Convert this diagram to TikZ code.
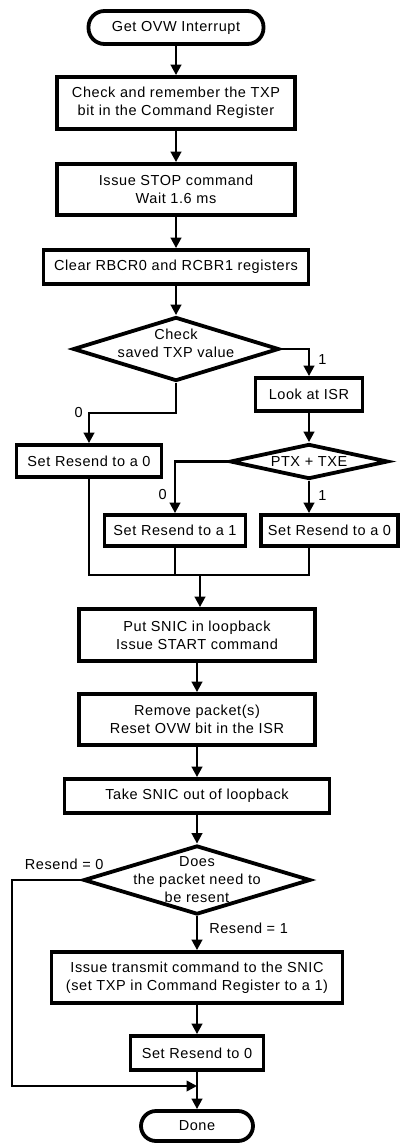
\documentclass[tikz,border=0pt]{standalone}
\usepackage{fontspec}
\setmainfont{Liberation Sans}[LetterSpace=4.0]
\usepackage{tikz}
\usetikzlibrary{shapes,arrows,arrows.meta,positioning}

\begin{document}
\begin{tikzpicture}[
    x=1pt, y=-1pt,
    font=\fontsize{14.5}{18}\selectfont,
    box/.style={rectangle, draw, line width=3.8pt, align=center, inner sep=0pt},
    terminal/.style={box, rounded corners=16pt, minimum height=33pt},
    decision/.style={diamond, draw, line width=3.8pt, inner sep=0pt},
    flow/.style={-{Triangle[length=10.5pt,width=10.5pt]}, line width=2.5pt},
    link/.style={line width=2.5pt},
    lbl/.style={inner sep=1pt}
]
    \useasboundingbox (0,0) rectangle (402,1144);

    % Start and first steps
    \node[terminal, minimum width=175pt] (start) at (176,27.5) {Get OVW Interrupt};
    \node[box, minimum width=238pt, minimum height=52pt] (chk) at (176,103) {Check and remember the TXP\\bit in the Command Register};
    \node[box, minimum width=238pt, minimum height=51pt] (stop) at (176,189.5) {Issue STOP command\\Wait 1.6 ms};
    \node[box, minimum width=265pt, minimum height=34pt] (clr) at (176,267) {Clear RBCR0 and RCBR1 registers};

    % TXP decision
    \node[decision, minimum width=206pt, minimum height=64pt,
          label={[align=center,yshift=6pt]center:{Check\\saved TXP value}}] (txp) at (176,349) {};
    \node[box, minimum width=107pt, minimum height=33pt] (isr) at (309,394.5) {Look at ISR};
    \node[box, minimum width=145pt, minimum height=32pt] (rsA) at (89,461) {Set Resend to a 0};

    % ISR decision
    \node[decision, minimum width=158pt, minimum height=35pt, label={center:{PTX + TXE}}] (ptx) at (309,461.5) {};
    \node[box, minimum width=141pt, minimum height=31pt] (rsB) at (175,530.5) {Set Resend to a 1};
    \node[box, minimum width=137pt, minimum height=31pt] (rsC) at (329.5,530.5) {Set Resend to a 0};
    \coordinate (mrg) at (200,575);

    % Loopback
    \node[box, minimum width=236pt, minimum height=52pt] (loop) at (197,635) {Put SNIC in loopback\\Issue START command};
    \node[box, minimum width=236pt, minimum height=51pt] (rem) at (197,719.5) {Remove packet(s)\\Reset OVW bit in the ISR};
    \node[box, minimum width=265pt, minimum height=34pt] (out) at (197,796) {Take SNIC out of loopback};

    % Resend decision
    \node[decision, minimum width=227pt, minimum height=69pt,
          label={[align=center]center:{Does\\the packet need to\\be resent}}] (resent) at (197,880) {};
    \node[box, minimum width=291pt, minimum height=51pt] (xmit) at (197,977.5) {Issue transmit command to the SNIC\\(set TXP in Command Register to a 1)};
    \node[box, minimum width=133pt, minimum height=34pt] (rs0) at (197,1053) {Set Resend to 0};
    \node[terminal, minimum width=112pt, minimum height=30pt, rounded corners=15pt] (done) at (197,1126) {Done};
    \coordinate (jn) at (197,1086);
    \coordinate (lb) at (12,1086);

    % Connectors
    \draw[flow] (start) -- (chk);
    \draw[flow] (chk) -- (stop);
    \draw[flow] (stop) -- (clr);
    \draw[flow] (clr) -- (txp);
    \draw[flow] (txp.east) -| node[lbl, pos=0.69, right=7pt] (one) {1} (isr.north);
    \draw[flow] (txp.south) -- ++(0,30) -| node[lbl, pos=0.5, left=4pt] (zero) {0} (rsA.north);
    \draw[flow] (isr) -- (ptx);
    \draw[flow] (ptx.west) -| node[lbl, pos=0.82, left=6pt] (ptxno) {0} (rsB.north);
    \draw[flow] (ptx.south) -- node[lbl, pos=0.45, right=7pt] (ptxyes) {1} (ptx.south |- rsC.north);
    \draw[link] (rsA.south) |- (ptx.south |- mrg) -- (ptx.south |- rsC.south);
    \draw[link] (rsB.south) -- (rsB.south |- mrg);
    \draw[flow] (mrg) -- (mrg |- loop.north);
    \draw[flow] (loop) -- (rem);
    \draw[flow] (rem) -- (out);
    \draw[flow] (out) -- (resent);
    \draw[flow] (resent) -- node[lbl, pos=0.35, right=10pt] (rsyes) {Resend = 1} (xmit);
    \draw[flow] (xmit) -- (rs0);
    \draw[flow] (rs0) -- (done);
    \draw[flow] (resent.west) -| node[lbl, pos=0.125, above=8pt] (rsno) {Resend = 0} (lb) -- (jn);
\end{tikzpicture}
\end{document}
